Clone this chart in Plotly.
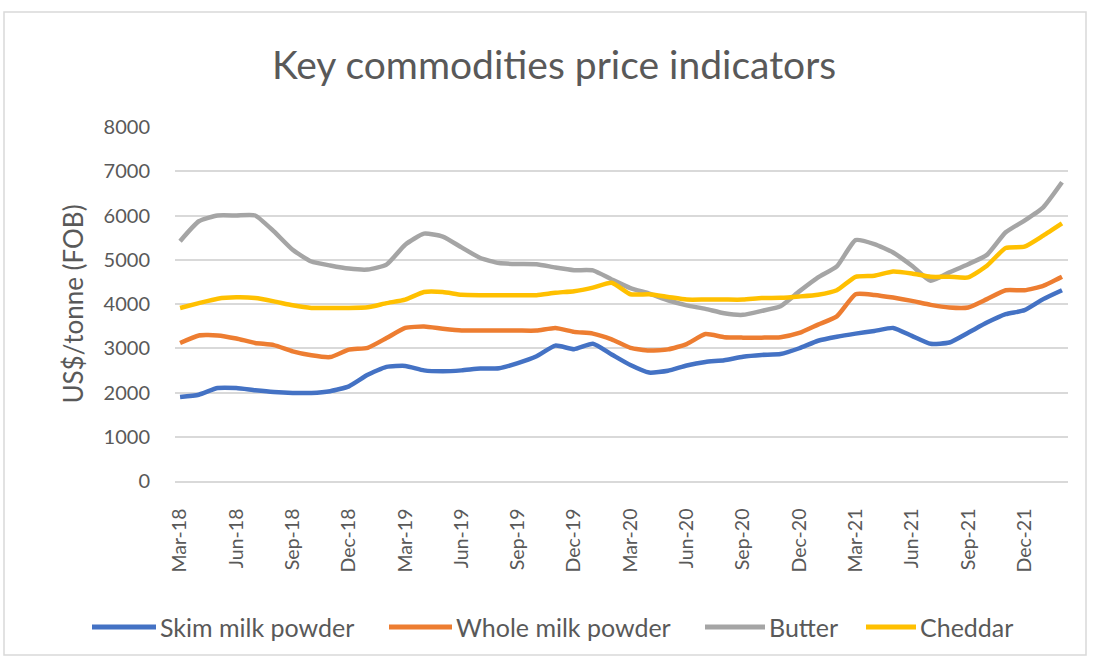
import plotly.graph_objects as go

months = ["Mar-18", "Apr-18", "May-18", "Jun-18", "Jul-18", "Aug-18", "Sep-18", "Oct-18", "Nov-18", "Dec-18",
          "Jan-19", "Feb-19", "Mar-19", "Apr-19", "May-19", "Jun-19", "Jul-19", "Aug-19", "Sep-19", "Oct-19",
          "Nov-19", "Dec-19", "Jan-20", "Feb-20", "Mar-20", "Apr-20", "May-20", "Jun-20", "Jul-20", "Aug-20",
          "Sep-20", "Oct-20", "Nov-20", "Dec-20", "Jan-21", "Feb-21", "Mar-21", "Apr-21", "May-21", "Jun-21",
          "Jul-21", "Aug-21", "Sep-21", "Oct-21", "Nov-21", "Dec-21", "Jan-22", "Feb-22"]

skim_milk_powder = [1900, 1950, 2100, 2100, 2050, 2010, 1990, 1990, 2030, 2140,
                    2400, 2580, 2600, 2500, 2480, 2500, 2540, 2550, 2665, 2820,
                    3060, 2980, 3100, 2860, 2620, 2450, 2490, 2610, 2690, 2730,
                    2810, 2850, 2870, 3000, 3170, 3260, 3330, 3390, 3460, 3280,
                    3100, 3130, 3350, 3580, 3770, 3860, 4110, 4310]

whole_milk_powder = [3120, 3290, 3290, 3220, 3120, 3070, 2930, 2840, 2800, 2970,
                     3010, 3230, 3460, 3490, 3440, 3400, 3400, 3400, 3400, 3400,
                     3460, 3370, 3330, 3200, 3010, 2950, 2975, 3095, 3320, 3250,
                     3240, 3240, 3250, 3345, 3535, 3720, 4220, 4205, 4145, 4070,
                     3980, 3920, 3920, 4110, 4310, 4310, 4410, 4615]

butter = [5420, 5870, 6000, 6000, 6000, 5640, 5225, 4960, 4870, 4800,
          4780, 4890, 5340, 5590, 5525, 5280, 5040, 4925, 4905, 4900,
          4825, 4765, 4760, 4555, 4360, 4235, 4085, 3970, 3890, 3790,
          3755, 3845, 3950, 4285, 4600, 4850, 5445, 5355, 5165, 4865,
          4525, 4715, 4900, 5110, 5620, 5885, 6185, 6750]

cheddar = [3910, 4020, 4120, 4150, 4135, 4060, 3970, 3910, 3910, 3910,
           3925, 4020, 4100, 4270, 4270, 4210, 4200, 4200, 4200, 4200,
           4255, 4290, 4370, 4480, 4220, 4220, 4160, 4100, 4100, 4100,
           4100, 4135, 4140, 4170, 4210, 4310, 4615, 4640, 4735, 4690,
           4615, 4615, 4600, 4865, 5265, 5295, 5545, 5820]

series_names = ["Skim milk powder", "Whole milk powder", "Butter", "Cheddar"]
series_values = [skim_milk_powder, whole_milk_powder, butter, cheddar]
series_colors = ["#4472C4", "#ED7D31", "#A5A5A5", "#FFC000"]

tick_labels = months[::3]

FONT = "Lato"
GREY = "#595959"

L, R, T, B = 175, 1068, 127, 481
W, H = 1093, 660
pw, ph = R - L, B - T


def px(x):
    return (x - L) / pw


def py(y):
    return (B - y) / ph


fig = go.Figure()
for name, vals, col in zip(series_names, series_values, series_colors):
    fig.add_trace(go.Scatter(
        x=months, y=vals, name=name, mode="lines", showlegend=False,
        line=dict(color=col, width=4.5, shape="spline", smoothing=0.5),
    ))

fig.update_layout(
    width=W, height=H,
    margin=dict(l=L, r=W - R, t=T, b=H - B),
    paper_bgcolor="white", plot_bgcolor="white",
    font=dict(family=FONT, color=GREY),
    title=dict(text="Key commodities price indicators",
               xref="container", x=554 / W, xanchor="center",
               yref="container", y=1 - 65 / H, yanchor="middle",
               font=dict(family=FONT, size=39, color=GREY)),
    showlegend=False,
)

fig.update_xaxes(
    type="category", range=[-0.27, 47.32],
    tickmode="array", tickvals=tick_labels, ticktext=tick_labels,
    tickangle=-90, tickfont=dict(family=FONT, size=19.5, color=GREY),
    ticklabelstandoff=18,
    showgrid=False, showline=True, linecolor="#D9D9D9", linewidth=1.5,
    ticks="", zeroline=False,
)
fig.update_yaxes(
    range=[0, 8000], tickvals=list(range(0, 8001, 1000)),
    tickfont=dict(family=FONT, size=20, color=GREY),
    ticklabelstandoff=24,
    showgrid=True, gridcolor="#D9D9D9", gridwidth=1.5,
    zeroline=False, showline=False, ticks="",
    title=dict(text="US$/tonne (FOB)", font=dict(family=FONT, size=26, color=GREY), standoff=12),
)

# chart border
fig.add_shape(type="rect", xref="paper", yref="paper",
              x0=px(4), x1=px(1086), y0=py(655), y1=py(12),
              line=dict(color="#D9D9D9", width=1.5), fillcolor="rgba(0,0,0,0)", layer="below")

# legend (line sample + label)
legend_line_x = [(92, 156), (389, 452), (705, 765), (866, 916)]
legend_y = 627
for name, col, (x0, x1) in zip(series_names, series_colors, legend_line_x):
    fig.add_shape(type="line", xref="paper", yref="paper",
                  x0=px(x0), x1=px(x1), y0=py(legend_y), y1=py(legend_y),
                  line=dict(color=col, width=5))
    fig.add_annotation(text=name, xref="paper", yref="paper",
                       x=px(x1 + 2), y=py(legend_y), xanchor="left", yanchor="middle",
                       showarrow=False, font=dict(family=FONT, size=25, color=GREY))

fig.write_html("out.html", post_script="document.body.style.margin='0';",
               config={"displayModeBar": False})
